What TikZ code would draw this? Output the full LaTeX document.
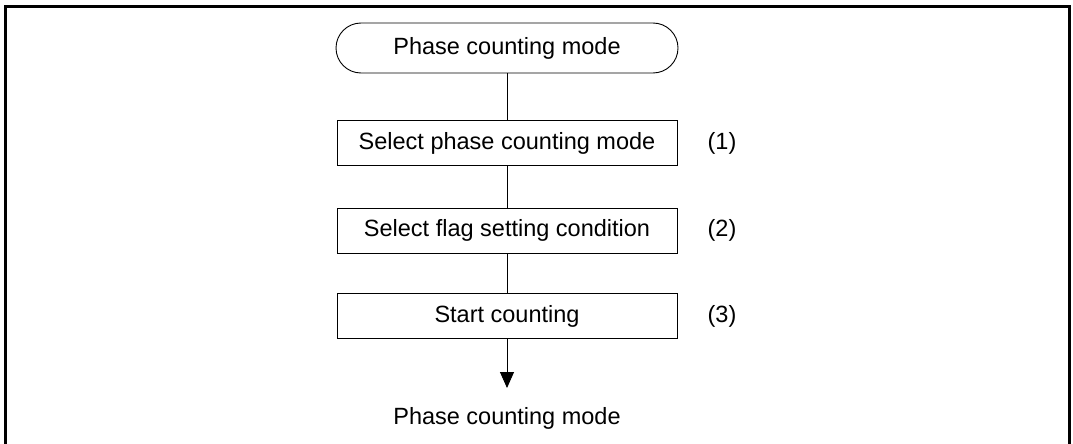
\documentclass[tikz,border=0pt]{standalone}
\usepackage{fontspec}
\setmainfont{Liberation Sans}
\usetikzlibrary{arrows.meta,positioning}

\tikzset{
  stepbox/.style={draw,line width=0.9pt,minimum width=340pt,minimum height=45pt,inner sep=0pt},
  termbox/.style={draw,line width=0.9pt,rounded corners=25pt,minimum width=342pt,minimum height=50pt,inner sep=0pt},
  flowline/.style={line width=0.9pt}
}

\begin{document}
\begin{tikzpicture}[x=1pt,y=-1pt,font=\fontsize{23.5}{28}\selectfont]
    \useasboundingbox (0,0) rectangle (1073,444);
    % Outer frame
    \draw[line width=3pt] (5.5,6.5) rectangle (1069.5,452);

    % Flow steps
    \node[termbox] (start) at (507,48) {Phase counting mode};
    \node[stepbox] (sel) at (507,143) {Select phase counting mode};
    \node[stepbox] (flag) at (507,230.5) {Select flag setting condition};
    \node[stepbox] (cnt) at (507,316) {Start counting};

    % Step numbers
    \node (lab1) at (722,143) {(1)};
    \node (lab2) at (722,230.5) {(2)};
    \node (lab3) at (722,316) {(3)};

    % Connectors
    \draw[flowline] (start) -- (sel);
    \draw[flowline] (sel) -- (flag);
    \draw[flowline] (flag) -- (cnt);
    \coordinate (tip) at (507,388);
    \draw[flowline,-{Triangle[length=16pt,width=14pt]}] (cnt) -- (tip);

    % Exit
    \node (endtxt) at (507,418) {Phase counting mode};
\end{tikzpicture}
\end{document}
